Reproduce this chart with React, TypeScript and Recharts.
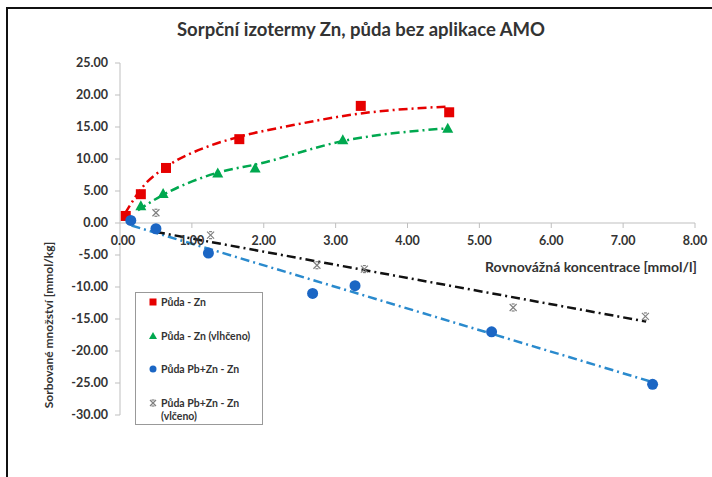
import React from 'react';
import { ComposedChart, Scatter, Line, XAxis, YAxis, ReferenceLine, ReferenceDot } from 'recharts';

// measured points
const pudaZn = [
  { x: 0.08, y: 1.1 }, { x: 0.29, y: 4.5 }, { x: 0.64, y: 8.6 },
  { x: 1.66, y: 13.1 }, { x: 3.35, y: 18.3 }, { x: 4.58, y: 17.3 },
];
const pudaZnVlh = [
  { x: 0.29, y: 2.7 }, { x: 0.6, y: 4.6 }, { x: 1.36, y: 7.8 },
  { x: 1.88, y: 8.6 }, { x: 3.1, y: 13.0 }, { x: 4.56, y: 14.8 },
];
const pudaPbZn = [
  { x: 0.15, y: 0.4 }, { x: 0.5, y: -0.9 }, { x: 1.23, y: -4.7 }, { x: 2.68, y: -11.0 },
  { x: 3.27, y: -9.8 }, { x: 5.17, y: -17.0 }, { x: 7.41, y: -25.2 },
];
const pudaPbZnVlc = [
  { x: 0.5, y: 1.6 }, { x: 1.26, y: -1.9 }, { x: 2.74, y: -6.6 }, { x: 3.4, y: -7.2 },
  { x: 5.47, y: -13.2 }, { x: 7.31, y: -14.6 },
];

// trendlines
const trendZn = [
  { x: 0.07, y: 1.5 }, { x: 0.32, y: 5.7 }, { x: 0.65, y: 8.8 }, { x: 1.21, y: 11.9 },
  { x: 1.67, y: 13.5 }, { x: 2.41, y: 15.3 }, { x: 3.34, y: 17.1 }, { x: 4.56, y: 18.2 },
];
const trendZnVlh = [
  { x: 0.25, y: 2.0 }, { x: 0.6, y: 4.4 }, { x: 1.34, y: 7.8 }, { x: 1.95, y: 9.3 },
  { x: 3.1, y: 12.8 }, { x: 4.56, y: 14.8 },
];
const trendPbZn = [{ x: 0.16, y: -0.4 }, { x: 7.39, y: -24.8 }];
const trendPbZnVlc = [{ x: 0.5, y: -1.4 }, { x: 7.32, y: -15.4 }];

const xTicks = [0, 1, 2, 3, 4, 5, 6, 7, 8];
const yTicks = [-30, -25, -20, -15, -10, -5, 0, 5, 10, 15, 20, 25];

const FONT = 'Lato, "Open Sans", sans-serif';
const TEXT = '#333333';
const AXIS = '#bfbfbf';
const DASH = '9 4 2 4';

const RED = '#e60000';
const GREEN = '#00a84f';
const BLUE = '#1b66c4';
const BLUE_LINE = '#2a8acd';
const GREY = '#808080';

const Square = ({ cx, cy, s = 10 }: any) => <rect x={cx - s / 2} y={cy - s / 2} width={s} height={s} fill={RED} />;
const Triangle = ({ cx, cy, s = 11 }: any) => (
  <polygon points={`${cx},${cy - s / 2} ${cx + s / 2},${cy + s / 2 - 1} ${cx - s / 2},${cy + s / 2 - 1}`} fill={GREEN} />
);
const Circle = ({ cx, cy, s = 11 }: any) => <circle cx={cx} cy={cy} r={s / 2} fill={BLUE} />;
const Star = ({ cx, cy, s = 7 }: any) => {
  const h = s / 2;
  return (
    <g stroke={GREY} strokeWidth={1.2} fill="none">
      <line x1={cx - h} y1={cy - h} x2={cx + h} y2={cy + h} />
      <line x1={cx - h} y1={cy + h} x2={cx + h} y2={cy - h} />
      <line x1={cx - 1.5} y1={cy - h} x2={cx + 1.5} y2={cy - h} />
      <line x1={cx - 1.5} y1={cy + h} x2={cx + 1.5} y2={cy + h} />
    </g>
  );
};

const legendItems = [
  { label: ['Půda - Zn'], icon: <Square cx={5} cy={5} s={7} /> },
  { label: ['Půda - Zn (vlhčeno)'], icon: <Triangle cx={5} cy={5} s={8} /> },
  { label: ['Půda Pb+Zn - Zn'], icon: <Circle cx={5} cy={5} s={7} /> },
  { label: ['Půda Pb+Zn - Zn', '(vlčeno)'], icon: <Star cx={5} cy={5} s={6} /> },
];

const LegendBox = () => (
  <div style={{ position: 'absolute', left: 135, top: 292, width: 128, height: 133, border: '1px solid #999', boxSizing: 'border-box', background: '#fff', paddingTop: 3 }}>
    {legendItems.map((it, i) => (
      <div key={i} style={{ display: 'flex', alignItems: 'flex-start', marginLeft: 12, height: 33.5 }}>
        <svg width={10} height={10} style={{ marginTop: 1, marginRight: 3, flexShrink: 0 }}>{it.icon}</svg>
        <div style={{ fontSize: 10.5, fontWeight: 700, color: TEXT, lineHeight: '13px', whiteSpace: 'nowrap' }}>
          {it.label.map((l, j) => <div key={j}>{l}</div>)}
        </div>
      </div>
    ))}
  </div>
);

// x tick drawn on the zero line
const XTick = (v: number) => (props: any) => {
  const { cx, cy } = props;
  return (
    <g>
      {v !== 0 && <line x1={cx} y1={cy} x2={cx} y2={cy + 5} stroke={AXIS} />}
      <text x={cx + (v === 0 ? 3 : 0)} y={cy + 22} textAnchor="middle" fontSize={12.5} fontWeight={700} fill={TEXT} fontFamily={FONT}>
        {v.toFixed(2)}
      </text>
    </g>
  );
};

export default function App() {
  return (
    <div style={{ position: 'absolute', left: 0, top: 0, width: 712, height: 477, background: '#fff', fontFamily: FONT, overflow: 'hidden' }}>
      <div style={{ position: 'absolute', left: 6, top: 7, width: 720, height: 480, borderLeft: '2px solid #111', borderTop: '2px solid #111' }} />
      <div style={{ position: 'absolute', left: 0, width: 722, top: 18, textAlign: 'center', fontSize: 18.5, fontWeight: 700, color: TEXT }}>
        Sorpční izotermy Zn, půda bez aplikace AMO
      </div>
      <div style={{ position: 'absolute', left: 48, top: 325, transform: 'translate(-50%, -50%) rotate(-90deg)', whiteSpace: 'nowrap', fontSize: 12, fontWeight: 700, color: TEXT }}>
        Sorbované množství [mmol/kg]
      </div>
      <div style={{ position: 'absolute', left: 0, top: 0 }}>
        <ComposedChart width={712} height={477} margin={{ top: 63, right: 17, bottom: 62, left: 60 }}>
          <XAxis dataKey="x" type="number" domain={[0, 8]} ticks={xTicks} hide />
          <YAxis
            dataKey="y"
            type="number"
            domain={[-30, 25]}
            ticks={yTicks}
            width={60}
            axisLine={{ stroke: AXIS }}
            tickLine={{ stroke: AXIS }}
            tickSize={5}
            tickMargin={7}
            tickFormatter={(v: number) => v.toFixed(2)}
            tick={{ fontSize: 12.5, fontWeight: 700, fill: TEXT, fontFamily: FONT }}
          />
          <ReferenceLine y={0} stroke={AXIS} />
          {xTicks.map(v => (
            <ReferenceDot key={v} x={v} y={0} r={0} shape={XTick(v)} />
          ))}
          <Line data={trendZn} dataKey="y" type="monotone" stroke={RED} strokeWidth={2.5} strokeDasharray={DASH} dot={false} isAnimationActive={false} />
          <Line data={trendZnVlh} dataKey="y" type="monotone" stroke={GREEN} strokeWidth={2.5} strokeDasharray={DASH} dot={false} isAnimationActive={false} />
          <Line data={trendPbZn} dataKey="y" type="linear" stroke={BLUE_LINE} strokeWidth={2.5} strokeDasharray={DASH} dot={false} isAnimationActive={false} />
          <Line data={trendPbZnVlc} dataKey="y" type="linear" stroke="#111" strokeWidth={2.5} strokeDasharray={DASH} dot={false} isAnimationActive={false} />
          <Scatter name="Půda - Zn" data={pudaZn} shape={(p: any) => <Square {...p} />} isAnimationActive={false} />
          <Scatter name="Půda - Zn (vlhčeno)" data={pudaZnVlh} shape={(p: any) => <Triangle {...p} />} isAnimationActive={false} />
          <Scatter name="Půda Pb+Zn - Zn" data={pudaPbZn} shape={(p: any) => <Circle {...p} />} isAnimationActive={false} />
          <Scatter name="Půda Pb+Zn - Zn (vlčeno)" data={pudaPbZnVlc} shape={(p: any) => <Star {...p} />} isAnimationActive={false} />
        </ComposedChart>
      </div>
      <div style={{ position: 'absolute', right: 15, top: 258, whiteSpace: 'nowrap', fontSize: 14, fontWeight: 700, color: TEXT }}>
        Rovnovážná koncentrace [mmol/l]
      </div>
      <LegendBox />
    </div>
  );
}
